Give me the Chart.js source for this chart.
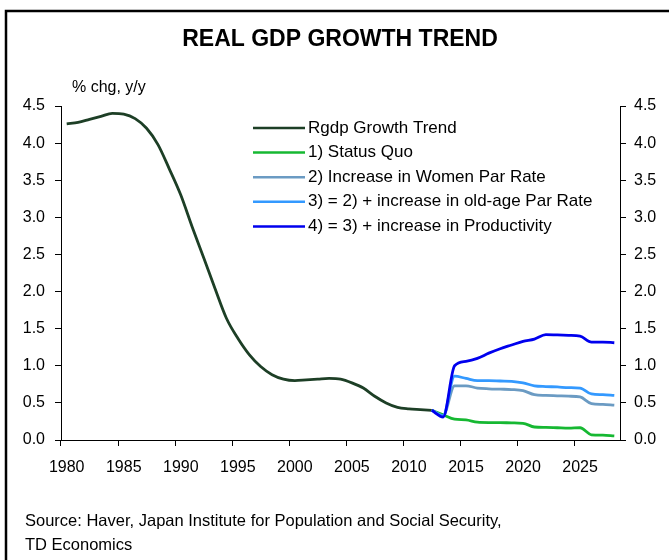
<!DOCTYPE html>
<html>
<head>
<meta charset="utf-8">
<script src="https://cdn.jsdelivr.net/npm/chart.js@4/dist/chart.umd.min.js"></script>
<style>
  html, body { margin: 0; padding: 0; background: #fff; }
  canvas { display: block; }
</style>
</head>
<body>
<canvas id="gdp-chart" width="669" height="560"></canvas>
<script>
// years on the category axis
const years = [];
for (let y = 1980; y <= 2028; y++) years.push(y);

const yTicks = [0, 0.5, 1, 1.5, 2, 2.5, 3, 3.5, 4, 4.5];

// Rgdp growth trend, 1980-2012
const trend = [4.26, 4.28, 4.32, 4.36, 4.40, 4.39, 4.33, 4.20, 3.98, 3.65,
  3.30, 2.87, 2.46, 2.04, 1.64, 1.37, 1.15, 0.99, 0.88, 0.82,
  0.80, 0.81, 0.82, 0.83, 0.82, 0.77, 0.70, 0.59, 0.50, 0.44,
  0.42, 0.41, 0.40];

// scenarios, 2012-2028
const statusQuo = [0.40, 0.34, 0.28, 0.27, 0.24, 0.235, 0.235, 0.23, 0.225,
  0.175, 0.17, 0.165, 0.16, 0.165, 0.07, 0.065, 0.055];
const womenPar = [0.40, 0.33, 0.73, 0.73, 0.70, 0.69, 0.685, 0.68, 0.665,
  0.61, 0.60, 0.595, 0.59, 0.58, 0.49, 0.48, 0.47];
const oldAgePar = [0.40, 0.33, 0.86, 0.83, 0.80, 0.80, 0.795, 0.79, 0.77,
  0.73, 0.72, 0.715, 0.705, 0.70, 0.62, 0.61, 0.60];
const productivity = [0.40, 0.31, 1.00, 1.06, 1.10, 1.17, 1.23, 1.28, 1.33,
  1.36, 1.42, 1.415, 1.41, 1.40, 1.32, 1.32, 1.31];

const seriesNames = [
  'Rgdp Growth Trend',
  '1) Status Quo',
  '2) Increase in Women Par Rate',
  '3) = 2) + increase in old-age Par Rate',
  '4) = 3) + increase in Productivity'
];
const seriesColors = ['#1d3f26', '#16b832', '#6b9bc3', '#3399ff', '#0000ee'];

// pad a series out to the full year range
function place(values, startYear) {
  const out = years.map(() => null);
  values.forEach((v, i) => { out[startYear - 1980 + i] = v; });
  return out;
}

const seriesData = [
  place(trend, 1980),
  place(statusQuo, 2012),
  place(womenPar, 2012),
  place(oldAgePar, 2012),
  place(productivity, 2012)
];

const FONT = '"Liberation Sans", Arial, sans-serif';

const decorations = {
  id: 'decorations',
  afterDraw(chart) {
    const ctx = chart.ctx;
    ctx.save();
    // frame (top and left only)
    ctx.strokeStyle = '#000';
    ctx.lineWidth = 2.5;
    ctx.beginPath();
    ctx.moveTo(6, 560);
    ctx.lineTo(6, 11);
    ctx.lineTo(669, 11);
    ctx.stroke();

    ctx.fillStyle = '#000';
    ctx.textBaseline = 'middle';
    ctx.textAlign = 'center';
    ctx.font = 'bold 23px ' + FONT;
    ctx.fillText('REAL GDP GROWTH TREND', 340, 40);

    ctx.textAlign = 'left';
    ctx.font = '16px ' + FONT;
    ctx.fillText('% chg, y/y', 72, 88);

    // legend
    ctx.font = '17px ' + FONT;
    seriesNames.forEach((name, i) => {
      const y = 128 + i * 24.6;
      ctx.strokeStyle = seriesColors[i];
      ctx.lineWidth = 2.5;
      ctx.beginPath();
      ctx.moveTo(253, y);
      ctx.lineTo(305, y);
      ctx.stroke();
      ctx.fillStyle = '#000';
      ctx.fillText(name, 308, y);
    });

    ctx.font = '16.5px ' + FONT;
    ctx.fillText('Source: Haver, Japan Institute for Population and Social Security,', 25, 521);
    ctx.fillText('TD Economics', 25, 545);
    ctx.restore();
  }
};

const axisBase = {
  min: 0,
  max: 4.5,
  afterBuildTicks: (scale) => { scale.ticks = yTicks.map(v => ({ value: v })); },
  border: { display: true, color: '#000', width: 1 },
  grid: { drawOnChartArea: false, tickLength: 6, tickColor: '#000' },
  ticks: {
    color: '#000',
    font: { family: FONT, size: 16 },
    callback: (v) => Number(v).toFixed(1)
  }
};

new Chart(document.getElementById('gdp-chart'), {
  type: 'line',
  data: {
    labels: years,
    datasets: seriesData.map((d, i) => ({
      label: seriesNames[i],
      data: d,
      borderColor: seriesColors[i],
      backgroundColor: seriesColors[i],
      borderWidth: 2.8,
      pointRadius: 0,
      tension: 0.4,
      cubicInterpolationMode: 'monotone',
      spanGaps: false,
      order: 5 - i
    }))
  },
  options: {
    responsive: false,
    animation: false,
    layout: { padding: { left: 0, right: 0, top: 106, bottom: 80 } },
    plugins: { legend: { display: false }, title: { display: false }, tooltip: { enabled: false } },
    scales: {
      x: {
        type: 'category',
        offset: true,
        afterFit: (scale) => { scale.height = 40; },
        border: { display: true, color: '#000', width: 1 },
        grid: {
          offset: true,
          drawOnChartArea: false,
          tickLength: 6,
          tickColor: (c) => (years[c.index] !== undefined && years[c.index] % 5 === 0 ? '#000' : 'rgba(0,0,0,0)')
        },
        ticks: {
          autoSkip: false,
          maxRotation: 0,
          padding: 12,
          color: '#000',
          font: { family: FONT, size: 16 },
          callback: function (v, i) { return years[i] % 5 === 0 ? String(years[i]) : ''; }
        }
      },
      y: Object.assign({}, axisBase, {
        position: 'left',
        afterFit: (scale) => { scale.width = 61; },
        ticks: Object.assign({}, axisBase.ticks, { padding: 10 })
      }),
      y2: Object.assign({}, axisBase, {
        position: 'right',
        afterFit: (scale) => { scale.width = 49; },
        ticks: Object.assign({}, axisBase.ticks, { padding: 8 })
      })
    }
  },
  plugins: [decorations]
});
</script>
</body>
</html>
